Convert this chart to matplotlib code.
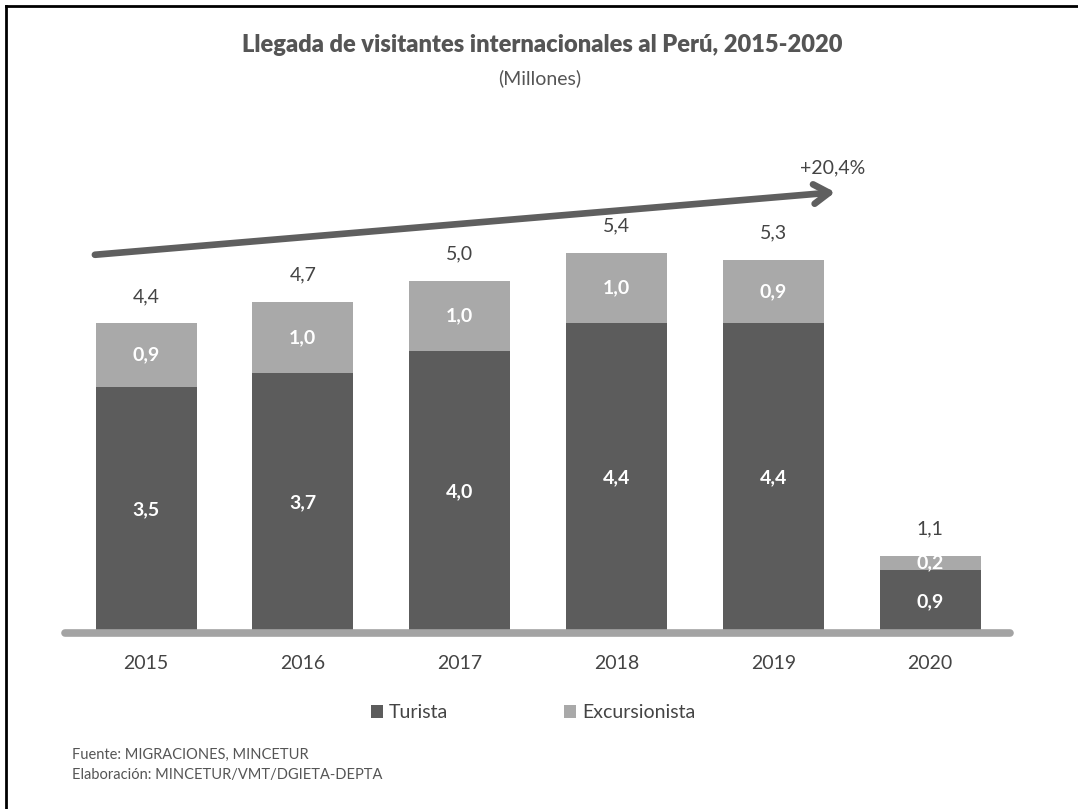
import matplotlib.pyplot as plt
from matplotlib.lines import Line2D
from matplotlib.patches import Patch

plt.rcParams['font.family'] = ['Lato', 'DejaVu Sans']

# Datos (millones de visitantes)
anios = ['2015', '2016', '2017', '2018', '2019', '2020']
turista = [3.5, 3.7, 4.0, 4.4, 4.4, 0.9]
excursionista = [0.9, 1.0, 1.0, 1.0, 0.9, 0.2]
variacion = '+20,4%'

color_turista = '#5c5c5c'
color_excursion = '#a9a9a9'
color_texto = '#444444'

def fmt(v):
    return f"{v:.1f}".replace('.', ',')

W, H = 1078, 809
fig = plt.figure(figsize=(W / 100, H / 100), dpi=100)

# ejes colocados para que la base quede en y=633 px
ax = fig.add_axes([65 / W, (H - 633) / H, 945 / W, 513 / H])
x = list(range(len(anios)))
ancho = 0.644

ax.bar(x, turista, width=ancho, color=color_turista, zorder=2)
ax.bar(x, excursionista, width=ancho, bottom=turista, color=color_excursion, zorder=2)

for i in x:
    t = turista[i]
    e = excursionista[i]
    ax.text(i, t / 2, fmt(t), ha='center', va='center', color='white',
            fontsize=14, fontweight='bold', zorder=4)
    ax.text(i, t + e / 2, fmt(e), ha='center', va='center', color='white',
            fontsize=14, fontweight='bold', zorder=4)
    ax.text(i, t + e + 0.38, fmt(t + e), ha='center', va='center',
            color=color_texto, fontsize=14, zorder=4)

ax.set_xlim(-0.517, 5.51)
ax.set_ylim(0, 513 / 70.4)

# linea base
ax.plot([-0.517, 5.51], [0, 0], color='#a3a3a3', linewidth=5.5,
        solid_capstyle='round', clip_on=False, zorder=3)

for s in ax.spines.values():
    s.set_visible(False)
ax.set_yticks([])
ax.set_xticks(x)
ax.set_xticklabels(anios, fontsize=14, color=color_texto)
ax.tick_params(axis='x', length=0, pad=16)

# flecha de crecimiento
ax.annotate('', xy=(4.413, (633 - 192) / 70.4), xytext=(-0.344, (633 - 255) / 70.4),
            arrowprops=dict(arrowstyle='->,head_length=1.1,head_width=0.7',
                            color='#5f5f5f', lw=4.8, capstyle='round'),
            zorder=5)
ax.text(4.38, (633 - 168) / 70.4, variacion, ha='center', va='center',
        color=color_texto, fontsize=14)

# titulo
fig.text(542 / W, 1 - 45 / H, 'Llegada de visitantes internacionales al Perú, 2015-2020',
         ha='center', va='center', fontsize=17, fontweight='heavy', color='#555555')
fig.text(540 / W, 1 - 78 / H, '(Millones)', ha='center', va='center',
         fontsize=14, color='#555555')

# leyenda
handles = [Patch(facecolor=color_turista, label='Turista'),
           Patch(facecolor=color_excursion, label='Excursionista')]
fig.legend(handles=handles, loc='center', bbox_to_anchor=(533 / W, 1 - 713 / H),
           ncol=2, frameon=False, fontsize=14, handlelength=0.6, handleheight=0.6,
           handletextpad=0.3, columnspacing=6, labelcolor=color_texto)

# fuente
fig.text(72 / W, 1 - 755 / H, 'Fuente: MIGRACIONES, MINCETUR', ha='left', va='center',
         fontsize=10.5, color='#555555')
fig.text(72 / W, 1 - 775 / H, 'Elaboración: MINCETUR/VMT/DGIETA-DEPTA', ha='left',
         va='center', fontsize=10.5, color='#555555')

# borde superior e izquierdo
fig.add_artist(Line2D([6 / W, 1], [1 - 6 / H, 1 - 6 / H], color='black', linewidth=2,
                      transform=fig.transFigure))
fig.add_artist(Line2D([6 / W, 6 / W], [0, 1 - 6 / H], color='black', linewidth=2,
                      transform=fig.transFigure))

fig.savefig('out.png', dpi=100)
plt.close(fig)
